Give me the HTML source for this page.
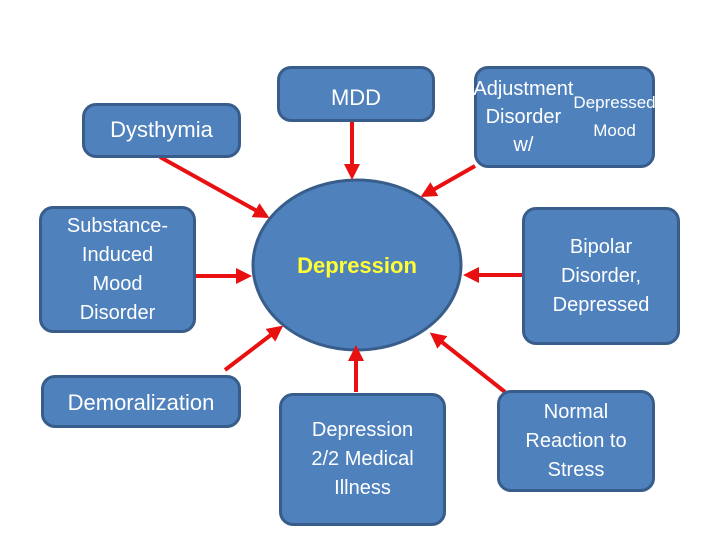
<!DOCTYPE html>
<html><head><style>
body{margin:0;width:720px;height:540px;background:#fff;position:relative;overflow:hidden;font-family:"Liberation Sans",sans-serif}
.b{position:absolute;box-sizing:border-box;background:#4f81bd;border:3px solid #385d8a;border-radius:14px;color:#fff;display:flex;align-items:center;justify-content:center;text-align:center;font-size:20px;line-height:29px}
svg{position:absolute;left:0;top:0}
</style></head><body>
<svg width="720" height="540">
<defs><marker id="a" markerWidth="4" markerHeight="4" refX="3" refY="2" orient="auto"><path d="M0,0L4,2L0,4z" fill="#e81010"/></marker></defs>
<ellipse cx="357" cy="265" rx="104" ry="85" fill="#4f81bd" stroke="#385d8a" stroke-width="3"/>
<g stroke="#e81010" stroke-width="4" marker-end="url(#a)">
<line x1="160" y1="157" x2="266" y2="216"/>
<line x1="352" y1="122" x2="352" y2="176"/>
<line x1="475" y1="166" x2="424" y2="195"/>
<line x1="195" y1="276" x2="248" y2="276"/>
<line x1="522" y1="275" x2="467" y2="275"/>
<line x1="225" y1="370" x2="280" y2="328"/>
<line x1="356" y1="392" x2="356" y2="349"/>
<line x1="505" y1="392" x2="433" y2="335"/>
</g>
<text x="357" y="273" text-anchor="middle" fill="#ffff33" font-weight="bold" font-size="22" font-family="Liberation Sans,sans-serif">Depression</text>
</svg>
<div class="b" style="left:277px;top:66px;width:158px;height:56px;align-items:flex-start;padding-top:14px;font-size:22px">MDD</div>
<div class="b" style="left:474px;top:66px;width:181px;height:102px;line-height:28px">Adjustment<br>Disorder w/<br><span style="font-size:17px">Depressed Mood</span></div>
<div class="b" style="left:82px;top:103px;width:159px;height:55px;font-size:22px;padding-bottom:3px">Dysthymia</div>
<div class="b" style="left:39px;top:206px;width:157px;height:127px">Substance-<br>Induced<br>Mood<br>Disorder</div>
<div class="b" style="left:522px;top:207px;width:158px;height:138px">Bipolar<br>Disorder,<br>Depressed</div>
<div class="b" style="left:41px;top:375px;width:200px;height:53px;font-size:22px;align-items:flex-start;padding-top:10px">Demoralization</div>
<div class="b" style="left:279px;top:393px;width:167px;height:133px">Depression<br>2/2 Medical<br>Illness</div>
<div class="b" style="left:497px;top:390px;width:158px;height:102px">Normal<br>Reaction to<br>Stress</div>
</body></html>
